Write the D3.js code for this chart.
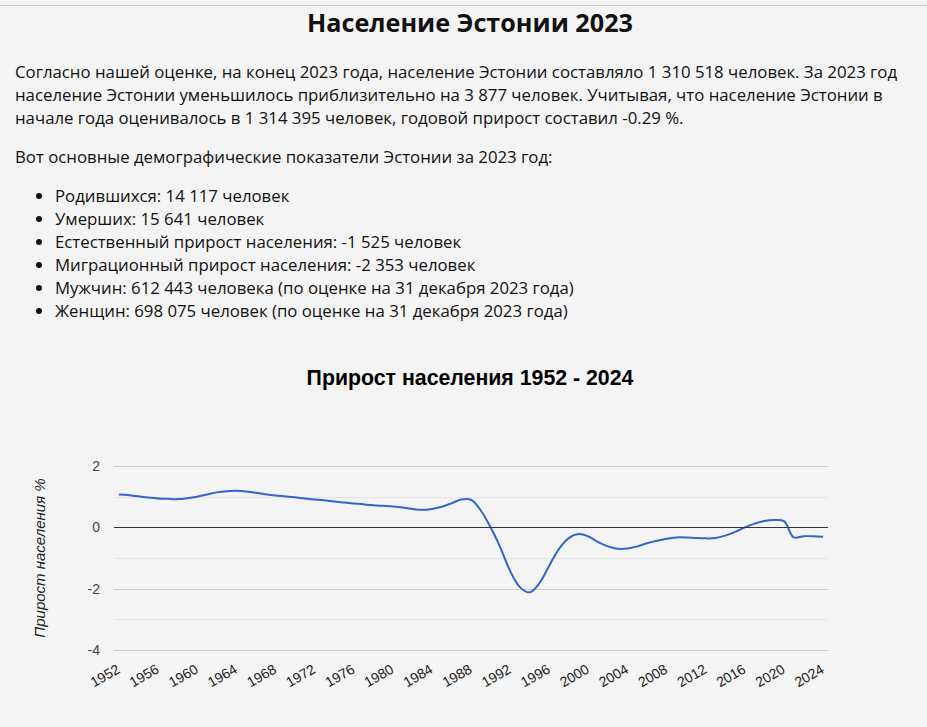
<!DOCTYPE html>
<html>
<head>
<meta charset="utf-8">
<script src="https://cdn.jsdelivr.net/npm/d3@7"></script>
<style>
  html, body { margin: 0; padding: 0; background: #f4f4f4; }
  body { width: 927px; height: 727px; overflow: hidden; position: relative;
         font-family: "Open Sans", "Noto Sans", sans-serif; color: #111; }
  #topline { position: absolute; left: 0; top: 5px; width: 927px; height: 1px; background: #c8c8c8; }
  h1 { position: absolute; left: 0; width: 940px; top: 6px; margin: 0; text-align: center;
       font-size: 25.2px; font-weight: 700; line-height: 32px; }
  .txt { position: absolute; left: 15px; width: 900px; font-size: 16.8px; line-height: 23px; margin: 0; }
  ul { position: absolute; left: 0; top: 184px; margin: 0; padding-left: 55px; font-size: 16.8px; line-height: 23px; }
  #chart { position: absolute; left: 0; top: 0; }
</style>
</head>
<body>
<div id="topline"></div>
<h1>Население Эстонии 2023</h1>
<p class="txt" style="top:60px">Согласно нашей оценке, на конец 2023 года, население Эстонии составляло 1 310 518 человек. За 2023 год население Эстонии уменьшилось приблизительно на 3 877 человек. Учитывая, что население Эстонии в начале года оценивалось в 1 314 395 человек, годовой прирост составил -0.29 %.</p>
<p class="txt" style="top:145px">Вот основные демографические показатели Эстонии за 2023 год:</p>
<ul id="facts"></ul>
<svg id="chart" width="927" height="727"></svg>
<script>
const facts = [
  "Родившихся: 14 117 человек",
  "Умерших: 15 641 человек",
  "Естественный прирост населения: -1 525 человек",
  "Миграционный прирост населения: -2 353 человек",
  "Мужчин: 612 443 человека (по оценке на 31 декабря 2023 года)",
  "Женщин: 698 075 человек (по оценке на 31 декабря 2023 года)"
];

const years = d3.range(1952, 2025);
const growth = [
  1.07, 1.05, 1.01, 0.97, 0.94, 0.93, 0.92, 0.95, 1.00, 1.07,
  1.14, 1.18, 1.19, 1.17, 1.13, 1.08, 1.04, 1.01, 0.98, 0.94,
  0.91, 0.88, 0.84, 0.81, 0.78, 0.75, 0.72, 0.70, 0.68, 0.65,
  0.60, 0.57, 0.60, 0.67, 0.78, 0.91, 0.90, 0.55, 0.00, -0.66,
  -1.42, -1.95, -2.12, -1.82, -1.25, -0.70, -0.35, -0.22, -0.30, -0.48,
  -0.62, -0.70, -0.69, -0.62, -0.52, -0.44, -0.37, -0.33, -0.33, -0.35,
  -0.36, -0.35, -0.27, -0.15, 0.00, 0.12, 0.21, 0.24, 0.20, -0.33,
  -0.29, -0.29, -0.31
];
const yTicks = [-4, -2, 0, 2];
const yMinor = [-3, -1, 1];
const xTicks = d3.range(1952, 2025, 4);

d3.select("#facts").selectAll("li")
  .data(facts)
  .join("li")
  .text(d => d);

const data = years.map((y, i) => ({year: y, value: growth[i]}));

const svg = d3.select("#chart");
const plot = { left: 114, right: 828, top: 466, bottom: 650 };
const chartFont = "Arial, 'Liberation Sans', sans-serif";

const x = d3.scalePoint()
  .domain(years)
  .range([plot.left, plot.right])
  .padding(0.5);

const y = d3.scaleLinear()
  .domain([-4, 2])
  .range([plot.bottom, plot.top]);

svg.append("text")
  .attr("x", 470)
  .attr("y", 385)
  .attr("text-anchor", "middle")
  .style("font-family", chartFont)
  .style("font-size", "21.3px")
  .style("font-weight", "bold")
  .attr("fill", "#000")
  .text("Прирост населения 1952 - 2024");

// minor gridlines
svg.selectAll("line.minor")
  .data(yMinor)
  .join("line")
  .attr("class", "minor")
  .attr("x1", plot.left).attr("x2", plot.right)
  .attr("y1", d => Math.round(y(d)) + 0.5).attr("y2", d => Math.round(y(d)) + 0.5)
  .attr("stroke", "#e3e3e3");

// major gridlines
svg.selectAll("line.major")
  .data(yTicks.filter(d => d !== 0))
  .join("line")
  .attr("class", "major")
  .attr("x1", plot.left).attr("x2", plot.right)
  .attr("y1", d => Math.round(y(d)) + 0.5).attr("y2", d => Math.round(y(d)) + 0.5)
  .attr("stroke", "#cccccc");

svg.selectAll("text.ylab")
  .data(yTicks)
  .join("text")
  .attr("class", "ylab")
  .attr("x", 100)
  .attr("y", d => y(d) + 5)
  .attr("text-anchor", "end")
  .style("font-family", chartFont)
  .style("font-size", "14px")
  .attr("fill", "#444")
  .text(d => d);

svg.selectAll("text.xlab")
  .data(xTicks)
  .join("text")
  .attr("class", "xlab")
  .attr("transform", d => `translate(${x(d) + 2},${plot.bottom + 22}) rotate(-30)`)
  .attr("text-anchor", "end")
  .style("font-family", chartFont)
  .style("font-size", "14px")
  .attr("fill", "#222")
  .text(d => d);

svg.append("text")
  .attr("transform", `translate(45,558) rotate(-90)`)
  .attr("text-anchor", "middle")
  .style("font-family", chartFont)
  .style("font-size", "15px")
  .style("font-style", "italic")
  .attr("fill", "#222")
  .text("Прирост населения %");

const line = d3.line()
  .x(d => x(d.year))
  .y(d => y(d.value))
  .curve(d3.curveCatmullRom.alpha(0.5));

svg.append("path")
  .datum(data)
  .attr("fill", "none")
  .attr("stroke", "#3366cc")
  .attr("stroke-width", 2)
  .attr("d", line);

// zero baseline
svg.append("line")
  .attr("x1", plot.left).attr("x2", plot.right)
  .attr("y1", Math.round(y(0)) + 0.5).attr("y2", Math.round(y(0)) + 0.5)
  .attr("stroke", "#333");
</script>
</body>
</html>
